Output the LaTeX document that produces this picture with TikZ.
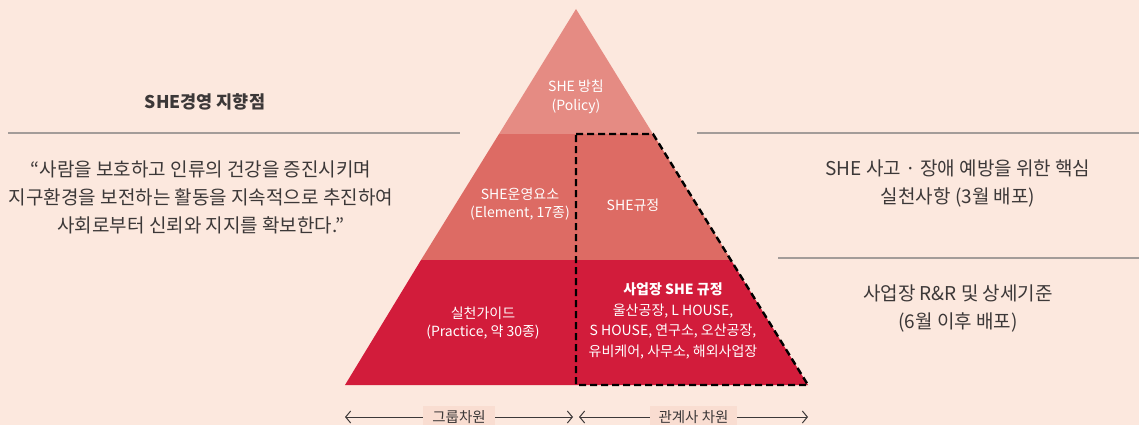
\documentclass[tikz,border=0pt]{standalone}
\usepackage{fontspec}
\setmainfont{Noto Sans CJK KR}
\usetikzlibrary{arrows.meta}
\definecolor{bgc}{HTML}{FCE8DE}
\definecolor{lay1}{HTML}{E58B83}
\definecolor{lay2}{HTML}{DD6B64}
\definecolor{lay3}{HTML}{D21C3B}
\definecolor{txt}{HTML}{3C3838}
\definecolor{rule}{HTML}{A39C99}
\definecolor{lblbg}{HTML}{F9DDD1}
\tikzset{
  pyrtext/.style={text=white,font=\fontsize{14}{18.5}\selectfont,align=center,inner sep=0pt},
  sidetext/.style={text=txt,font=\fontsize{19}{28}\selectfont,align=center,inner sep=0pt},
  ruleline/.style={draw=rule,line width=1.3pt},
  dashbox/.style={draw=black,line width=2.4pt,dash pattern=on 7pt off 4pt},
  dimarrow/.style={draw=txt,line width=1pt,{Straight Barb[length=5pt,width=12pt]}-{Straight Barb[length=5pt,width=12pt]}},
  dimlabel/.style={fill=lblbg,text=txt,font=\fontsize{14.5}{16}\selectfont,inner xsep=9pt,inner ysep=4pt}
}
\begin{document}
\begin{tikzpicture}[x=1pt,y=-1pt]
\fill[bgc] (0,0) rectangle (1139,425);
\useasboundingbox (0,0) rectangle (1139,425);
% pyramid layers
\fill[lay1] (576,9) -- (653,134) -- (499,134) -- cycle;
\fill[lay2] (499,134) -- (653,134) -- (731,260) -- (421,260) -- cycle;
\fill[lay3] (421,260) -- (731,260) -- (808,385) -- (345,385) -- cycle;
% dashed region
\draw[dashbox] (576,134) -- (653,134) -- (808,385) -- (576,385) -- cycle;
% pyramid texts
\node[pyrtext] (policy) at (576,97) {SHE 방침\\(Policy)};
\node[pyrtext] (element) at (520,204) {SHE운영요소\\(Element, 17종)};
\node[pyrtext] (rule) at (633,205) {SHE규정};
\node[pyrtext] (practice) at (483,323) {실천가이드\\(Practice, 약 30종)};
\node[pyrtext,font=\fontsize{14}{20.5}\selectfont] (site) at (673,321) {\textbf{사업장 SHE 규정}\\울산공장, L HOUSE,\\S HOUSE, 연구소, 오산공장,\\유비케어, 사무소, 해외사업장};
% left side
\node[sidetext,font=\bfseries\fontsize{17.5}{20}\selectfont] (goal) at (205,102) {SHE경영 지향점};
\coordinate (l1a) at (8,133);
\coordinate (l1b) at (460,133);
\draw[ruleline] (l1a) -- (l1b);
\node[sidetext] (quote) at (201,197) {“사람을 보호하고 인류의 건강을 증진시키며\\지구환경을 보전하는 활동을 지속적으로 추진하여\\사회로부터 신뢰와 지지를 확보한다.”};
% right side
\coordinate (r1a) at (697,133);
\coordinate (r1b) at (1139,133);
\draw[ruleline] (r1a) -- (r1b);
\node[sidetext] (core) at (958,184) {SHE 사고 · 장애 예방을 위한 핵심\\실천사항 (3월 배포)};
\coordinate (r2a) at (778,258);
\coordinate (r2b) at (1139,258);
\draw[ruleline] (r2a) -- (r2b);
\node[sidetext] (detail) at (958,309) {사업장 R\&R 및 상세기준\\(6월 이후 배포)};
% bottom arrows
\coordinate (gl) at (345,417);
\coordinate (gr) at (573,417);
\coordinate (al) at (579,417);
\coordinate (ar) at (808,417);
\draw[dimarrow] (gl) -- (gr) node[midway,dimlabel] (group) {그룹차원};
\draw[dimarrow] (al) -- (ar) node[midway,dimlabel] (affil) {관계사 차원};
\end{tikzpicture}
\end{document}
